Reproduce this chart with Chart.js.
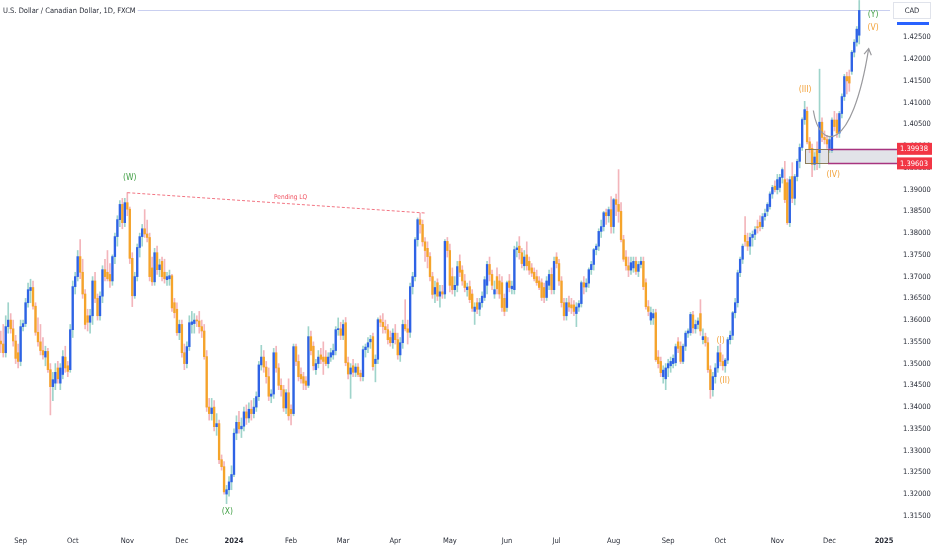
<!DOCTYPE html>
<html>
<head>
<meta charset="utf-8">
<script src="https://cdn.jsdelivr.net/npm/chart.js@4.4.1/dist/chart.umd.min.js"></script>
<style>
  html, body { margin: 0; padding: 0; background: #fff; }
</style>
</head>
<body>
<canvas id="chart" width="932" height="550"></canvas>
<script>
// USDCAD daily candles, [open, high, low, close], one array per month
const aug23 = [
  [1.3540,1.3565,1.3520,1.3552],[1.3552,1.3575,1.3525,1.3545],[1.3545,1.3590,1.3515,1.3525],
  [1.3525,1.3610,1.3515,1.3585],[1.3585,1.3640,1.3570,1.3600],[1.3600,1.3615,1.3570,1.3580],
  [1.3580,1.3600,1.3540,1.3552],[1.3552,1.3565,1.3500,1.3512],[1.3525,1.3545,1.3490,1.3505]
];
const sep23 = [
  [1.3505,1.3600,1.3495,1.3585],[1.3585,1.3600,1.3575,1.3592],[1.3592,1.3650,1.3585,1.3640],
  [1.3640,1.3685,1.3630,1.3670],[1.3668,1.3694,1.3640,1.3675],[1.3675,1.3690,1.3625,1.3632],
  [1.3632,1.3640,1.3565,1.3572],[1.3572,1.3605,1.3540,1.3550],[1.3550,1.3590,1.3520,1.3530],
  [1.3530,1.3560,1.3510,1.3520],[1.3515,1.3540,1.3495,1.3528],[1.3528,1.3535,1.3480,1.3486],
  [1.3486,1.3500,1.3382,1.3447],[1.3447,1.3480,1.3415,1.3463],[1.3455,1.3500,1.3440,1.3480],
  [1.3490,1.3505,1.3455,1.3465],[1.3455,1.3500,1.3440,1.3490],[1.3475,1.3530,1.3465,1.3516],
  [1.3515,1.3540,1.3480,1.3490],[1.3495,1.3505,1.3470,1.3482],[1.3486,1.3590,1.3480,1.3578]
];
const oct23 = [
  [1.3578,1.3690,1.3560,1.3677],[1.3677,1.3710,1.3660,1.3700],[1.3700,1.3760,1.3690,1.3746],
  [1.3746,1.3785,1.3695,1.3710],[1.3710,1.3740,1.3650,1.3660],[1.3660,1.3670,1.3580,1.3590],
  [1.3610,1.3625,1.3575,1.3595],[1.3595,1.3625,1.3570,1.3610],[1.3610,1.3700,1.3590,1.3690],
  [1.3690,1.3710,1.3640,1.3650],[1.3650,1.3660,1.3600,1.3610],[1.3610,1.3665,1.3600,1.3655],
  [1.3655,1.3725,1.3640,1.3716],[1.3716,1.3740,1.3690,1.3700],[1.3710,1.3760,1.3690,1.3695],
  [1.3705,1.3730,1.3675,1.3690],[1.3690,1.3750,1.3680,1.3746],[1.3746,1.3800,1.3730,1.3792],
  [1.3792,1.3840,1.3770,1.3831],[1.3831,1.3875,1.3815,1.3866],[1.3866,1.3880,1.3810,1.3824],
  [1.3824,1.3880,1.3815,1.3870]
];
const nov23 = [
  [1.3870,1.3893,1.3840,1.3855],[1.3855,1.3860,1.3730,1.3742],[1.3742,1.3755,1.3631,1.3656],
  [1.3656,1.3710,1.3650,1.3700],[1.3700,1.3775,1.3690,1.3767],[1.3767,1.3800,1.3745,1.3792],
  [1.3792,1.3820,1.3770,1.3810],[1.3810,1.3854,1.3790,1.3798],[1.3798,1.3830,1.3780,1.3790],
  [1.3790,1.3800,1.3690,1.3700],[1.3720,1.3745,1.3680,1.3688],[1.3688,1.3765,1.3680,1.3755],
  [1.3755,1.3770,1.3705,1.3716],[1.3716,1.3740,1.3700,1.3727],[1.3735,1.3745,1.3690,1.3700],
  [1.3710,1.3740,1.3685,1.3695],[1.3693,1.3710,1.3680,1.3700],[1.3695,1.3715,1.3680,1.3702],
  [1.3702,1.3705,1.3620,1.3628],[1.3640,1.3650,1.3605,1.3617],[1.3625,1.3640,1.3565,1.3571],
  [1.3571,1.3600,1.3555,1.3590]
];
const dec23 = [
  [1.3590,1.3600,1.3515,1.3525],[1.3525,1.3545,1.3486,1.3500],[1.3500,1.3550,1.3490,1.3539],
  [1.3539,1.3610,1.3530,1.3594],[1.3590,1.3620,1.3570,1.3596],[1.3592,1.3615,1.3570,1.3600],
  [1.3600,1.3610,1.3585,1.3598],[1.3598,1.3620,1.3570,1.3585],[1.3585,1.3600,1.3560,1.3575],
  [1.3575,1.3590,1.3510,1.3516],[1.3516,1.3530,1.3390,1.3400],[1.3400,1.3420,1.3370,1.3385],
  [1.3385,1.3420,1.3370,1.3398],[1.3400,1.3415,1.3345,1.3355],[1.3355,1.3385,1.3335,1.3362],
  [1.3362,1.3370,1.3270,1.3279],[1.3279,1.3290,1.3255,1.3263],[1.3263,1.3275,1.3200,1.3205],
  [1.3200,1.3220,1.3178,1.3210],[1.3210,1.3240,1.3195,1.3228],[1.3228,1.3265,1.3210,1.3245]
];
const jan24 = [
  [1.3245,1.3350,1.3240,1.3340],[1.3340,1.3380,1.3325,1.3365],[1.3365,1.3390,1.3340,1.3350],
  [1.3350,1.3375,1.3330,1.3356],[1.3356,1.3400,1.3345,1.3389],[1.3389,1.3405,1.3360,1.3375],
  [1.3375,1.3410,1.3365,1.3395],[1.3395,1.3415,1.3370,1.3385],[1.3385,1.3420,1.3375,1.3400],
  [1.3400,1.3435,1.3390,1.3424],[1.3424,1.3505,1.3415,1.3497],[1.3497,1.3542,1.3485,1.3515],
  [1.3515,1.3530,1.3480,1.3492],[1.3492,1.3505,1.3455,1.3470],[1.3470,1.3490,1.3415,1.3425],
  [1.3425,1.3440,1.3410,1.3430],[1.3430,1.3535,1.3420,1.3525],[1.3525,1.3540,1.3480,1.3490],
  [1.3490,1.3500,1.3440,1.3450],[1.3450,1.3465,1.3425,1.3440],[1.3440,1.3450,1.3390,1.3398],
  [1.3398,1.3440,1.3385,1.3433],[1.3433,1.3465,1.3370,1.3380]
];
const feb24 = [
  [1.3395,1.3405,1.3359,1.3385],[1.3385,1.3545,1.3380,1.3539],[1.3539,1.3545,1.3495,1.3505],
  [1.3505,1.3520,1.3460,1.3470],[1.3475,1.3490,1.3455,1.3465],[1.3470,1.3480,1.3440,1.3455],
  [1.3460,1.3470,1.3440,1.3450],[1.3450,1.3585,1.3445,1.3562],[1.3562,1.3575,1.3520,1.3530],
  [1.3540,1.3550,1.3485,1.3495],[1.3486,1.3510,1.3475,1.3500],[1.3500,1.3530,1.3490,1.3515],
  [1.3520,1.3535,1.3500,1.3510],[1.3515,1.3550,1.3475,1.3505],[1.3515,1.3530,1.3495,1.3500],
  [1.3500,1.3525,1.3490,1.3515],[1.3515,1.3535,1.3505,1.3525],[1.3520,1.3545,1.3510,1.3530],
  [1.3530,1.3585,1.3520,1.3578],[1.3578,1.3605,1.3565,1.3580],[1.3580,1.3595,1.3555,1.3565]
];
const mar24 = [
  [1.3565,1.3600,1.3555,1.3590],[1.3594,1.3606,1.3495,1.3502],[1.3502,1.3515,1.3465,1.3476],
  [1.3476,1.3500,1.3420,1.3490],[1.3495,1.3510,1.3470,1.3480],[1.3480,1.3500,1.3470,1.3492],
  [1.3492,1.3500,1.3470,1.3475],[1.3478,1.3485,1.3460,1.3470],[1.3470,1.3540,1.3460,1.3532],
  [1.3532,1.3545,1.3515,1.3538],[1.3538,1.3560,1.3525,1.3548],[1.3550,1.3565,1.3535,1.3556],
  [1.3562,1.3570,1.3485,1.3493],[1.3500,1.3520,1.3458,1.3510],[1.3510,1.3605,1.3500,1.3601],
  [1.3601,1.3610,1.3585,1.3595],[1.3595,1.3615,1.3570,1.3585],[1.3585,1.3600,1.3570,1.3578],
  [1.3578,1.3590,1.3545,1.3555],[1.3560,1.3575,1.3540,1.3548],[1.3548,1.3580,1.3535,1.3570]
];
const apr24 = [
  [1.3570,1.3590,1.3545,1.3555],[1.3555,1.3570,1.3510,1.3520],[1.3520,1.3560,1.3505,1.3548],
  [1.3548,1.3600,1.3535,1.3590],[1.3590,1.3647,1.3575,1.3580],[1.3580,1.3600,1.3545,1.3572],
  [1.3572,1.3685,1.3560,1.3677],[1.3677,1.3710,1.3660,1.3700],[1.3700,1.3790,1.3690,1.3785],
  [1.3785,1.3835,1.3770,1.3831],[1.3831,1.3846,1.3800,1.3820],[1.3820,1.3830,1.3770,1.3780],
  [1.3780,1.3790,1.3735,1.3760],[1.3765,1.3780,1.3720,1.3746],[1.3746,1.3755,1.3690,1.3700],
  [1.3700,1.3710,1.3650,1.3659],[1.3660,1.3690,1.3640,1.3675],[1.3686,1.3695,1.3645,1.3655],
  [1.3655,1.3680,1.3630,1.3665],[1.3665,1.3680,1.3650,1.3660],[1.3660,1.3785,1.3650,1.3781],
  [1.3781,1.3790,1.3745,1.3760]
];
const may24 = [
  [1.3760,1.3775,1.3665,1.3680],[1.3700,1.3720,1.3660,1.3670],[1.3670,1.3700,1.3655,1.3680],
  [1.3680,1.3735,1.3665,1.3723],[1.3735,1.3750,1.3700,1.3710],[1.3715,1.3725,1.3680,1.3690],
  [1.3690,1.3705,1.3665,1.3675],[1.3670,1.3685,1.3655,1.3676],[1.3677,1.3690,1.3640,1.3647],
  [1.3660,1.3670,1.3620,1.3627],[1.3620,1.3640,1.3590,1.3630],[1.3640,1.3650,1.3615,1.3625],
  [1.3625,1.3650,1.3610,1.3640],[1.3640,1.3665,1.3630,1.3655],[1.3652,1.3700,1.3645,1.3693],
  [1.3680,1.3735,1.3660,1.3728],[1.3728,1.3745,1.3690,1.3705],[1.3705,1.3715,1.3670,1.3680],
  [1.3660,1.3690,1.3650,1.3670],[1.3700,1.3720,1.3660,1.3672],[1.3690,1.3705,1.3650,1.3660],
  [1.3686,1.3700,1.3620,1.3629],[1.3650,1.3660,1.3610,1.3620]
];
const jun24 = [
  [1.3629,1.3690,1.3620,1.3686],[1.3690,1.3705,1.3665,1.3675],[1.3672,1.3690,1.3660,1.3678],
  [1.3670,1.3770,1.3660,1.3762],[1.3762,1.3780,1.3745,1.3766],[1.3770,1.3792,1.3740,1.3755],
  [1.3755,1.3765,1.3720,1.3730],[1.3725,1.3760,1.3715,1.3745],[1.3750,1.3780,1.3715,1.3725],
  [1.3735,1.3745,1.3705,1.3715],[1.3720,1.3730,1.3700,1.3708],[1.3710,1.3720,1.3690,1.3695],
  [1.3700,1.3715,1.3680,1.3686],[1.3690,1.3700,1.3670,1.3675],[1.3686,1.3695,1.3645,1.3652],
  [1.3675,1.3685,1.3640,1.3652],[1.3652,1.3700,1.3645,1.3690],[1.3680,1.3715,1.3670,1.3705],
  [1.3705,1.3720,1.3660,1.3670],[1.3670,1.3745,1.3660,1.3735]
];
const jul24 = [
  [1.3745,1.3755,1.3720,1.3730],[1.3730,1.3740,1.3680,1.3690],[1.3690,1.3700,1.3630,1.3640],
  [1.3640,1.3650,1.3600,1.3610],[1.3610,1.3650,1.3600,1.3640],[1.3640,1.3655,1.3620,1.3630],
  [1.3635,1.3650,1.3615,1.3628],[1.3635,1.3645,1.3610,1.3620],[1.3615,1.3640,1.3585,1.3630],
  [1.3630,1.3645,1.3620,1.3638],[1.3638,1.3690,1.3630,1.3686],[1.3686,1.3700,1.3660,1.3676],
  [1.3676,1.3695,1.3665,1.3685],[1.3685,1.3720,1.3675,1.3716],[1.3716,1.3735,1.3705,1.3728],
  [1.3728,1.3765,1.3715,1.3762],[1.3762,1.3775,1.3750,1.3770],[1.3770,1.3810,1.3760,1.3804],
  [1.3804,1.3830,1.3790,1.3815],[1.3815,1.3850,1.3805,1.3847],[1.3847,1.3855,1.3820,1.3840],
  [1.3840,1.3860,1.3825,1.3854],[1.3854,1.3884,1.3800,1.3815]
];
const aug24 = [
  [1.3815,1.3880,1.3800,1.3877],[1.3877,1.3890,1.3840,1.3866],[1.3866,1.3946,1.3825,1.3850],
  [1.3850,1.3870,1.3780,1.3785],[1.3785,1.3795,1.3735,1.3740],[1.3745,1.3760,1.3715,1.3725],
  [1.3725,1.3745,1.3700,1.3715],[1.3715,1.3745,1.3705,1.3732],[1.3720,1.3745,1.3710,1.3735],
  [1.3735,1.3745,1.3705,1.3712],[1.3712,1.3735,1.3700,1.3728],[1.3728,1.3745,1.3720,1.3735],
  [1.3735,1.3745,1.3670,1.3677],[1.3686,1.3695,1.3625,1.3631],[1.3631,1.3645,1.3610,1.3620],
  [1.3600,1.3630,1.3590,1.3617],[1.3605,1.3625,1.3590,1.3615],[1.3617,1.3625,1.3505,1.3509],
  [1.3515,1.3530,1.3490,1.3500],[1.3505,1.3515,1.3470,1.3479],[1.3470,1.3495,1.3455,1.3485],
  [1.3465,1.3500,1.3440,1.3490]
];
const sep24 = [
  [1.3490,1.3510,1.3470,1.3500],[1.3495,1.3515,1.3480,1.3505],[1.3500,1.3520,1.3490,1.3512],
  [1.3502,1.3545,1.3495,1.3539],[1.3550,1.3560,1.3525,1.3535],[1.3540,1.3550,1.3500,1.3505],
  [1.3505,1.3545,1.3500,1.3540],[1.3540,1.3575,1.3530,1.3570],[1.3570,1.3580,1.3560,1.3575],
  [1.3571,1.3618,1.3565,1.3613],[1.3612,1.3620,1.3570,1.3582],[1.3580,1.3600,1.3570,1.3590],
  [1.3590,1.3605,1.3580,1.3598],[1.3615,1.3647,1.3565,1.3575],[1.3555,1.3580,1.3545,1.3562],
  [1.3562,1.3570,1.3540,1.3548],[1.3548,1.3560,1.3480,1.3486],[1.3486,1.3495,1.3420,1.3440],
  [1.3440,1.3480,1.3425,1.3470],[1.3470,1.3500,1.3455,1.3490],[1.3490,1.3540,1.3480,1.3525]
];
const oct24 = [
  [1.3525,1.3545,1.3495,1.3505],[1.3505,1.3520,1.3485,1.3495],[1.3495,1.3512,1.3480,1.3508],
  [1.3508,1.3560,1.3500,1.3555],[1.3555,1.3575,1.3545,1.3565],[1.3565,1.3620,1.3555,1.3617],
  [1.3617,1.3650,1.3605,1.3640],[1.3640,1.3715,1.3630,1.3709],[1.3709,1.3745,1.3700,1.3740],
  [1.3740,1.3775,1.3730,1.3770],[1.3795,1.3838,1.3770,1.3781],[1.3781,1.3800,1.3760,1.3770],
  [1.3770,1.3800,1.3751,1.3790],[1.3790,1.3805,1.3770,1.3797],[1.3797,1.3815,1.3785,1.3808],
  [1.3815,1.3830,1.3800,1.3812],[1.3825,1.3840,1.3805,1.3815],[1.3815,1.3845,1.3810,1.3838],
  [1.3838,1.3855,1.3830,1.3845],[1.3850,1.3870,1.3840,1.3866],[1.3861,1.3895,1.3855,1.3890],
  [1.3890,1.3910,1.3880,1.3905],[1.3908,1.3920,1.3895,1.3900]
];
const nov24 = [
  [1.3900,1.3935,1.3890,1.3923],[1.3905,1.3935,1.3895,1.3928],[1.3928,1.3950,1.3915,1.3946],
  [1.3923,1.3965,1.3870,1.3877],[1.3916,1.3925,1.3820,1.3824],[1.3824,1.3930,1.3815,1.3923],
  [1.3930,1.3962,1.3870,1.3880],[1.3880,1.3935,1.3865,1.3930],[1.3930,1.3970,1.3920,1.3965],
  [1.3965,1.4005,1.3950,1.3997],[1.3997,1.4065,1.3990,1.4061],[1.4061,1.4103,1.4050,1.4084],
  [1.4080,1.4090,1.4005,1.4010],[1.4010,1.4020,1.3985,1.3992],[1.3995,1.4005,1.3930,1.3958],
  [1.3958,1.3985,1.3945,1.3975],[1.3990,1.4010,1.3946,1.3960],[1.3985,1.4177,1.3950,1.4055],
  [1.4055,1.4065,1.4010,1.4020],[1.4020,1.4035,1.4005,1.4015],[1.4015,1.4025,1.3995,1.4005]
];
const dec24 = [
  [1.3995,1.4020,1.3985,1.4015],[1.3990,1.4065,1.3985,1.4060],[1.4060,1.4080,1.4035,1.4045],
  [1.4060,1.4075,1.4020,1.4030],[1.4030,1.4080,1.4020,1.4075],[1.4075,1.4120,1.4065,1.4114],
  [1.4114,1.4165,1.4105,1.4160],[1.4160,1.4170,1.4120,1.4150],[1.4160,1.4175,1.4126,1.4145],
  [1.4172,1.4220,1.4165,1.4216],[1.4216,1.4245,1.4205,1.4239],[1.4239,1.4275,1.4230,1.4269],
  [1.4255,1.4335,1.4235,1.4312]
];

// axis ticks (candle index of the first trading day of each month)
const monthIdx = [9, 30, 52, 74, 95, 118, 139, 160, 182, 205, 225, 248, 270, 291, 314, 335, 357];
const monthLabels = ['Sep', 'Oct', 'Nov', 'Dec', '2024', 'Feb', 'Mar', 'Apr', 'May', 'Jun', 'Jul', 'Aug', 'Sep', 'Oct', 'Nov', 'Dec', '2025'];
const yTicks = [1.315, 1.32, 1.325, 1.33, 1.335, 1.34, 1.345, 1.35, 1.355, 1.36, 1.365, 1.37,
  1.375, 1.38, 1.385, 1.39, 1.395, 1.40, 1.405, 1.41, 1.415, 1.42, 1.425];

// drawings, in [candle index, price]
const greenWaves = [['(W)', 53, 1.3928], ['(X)', 92.3, 1.3160], ['(Y)', 352.6, 1.4303]];
const orangeWaves = [['(V)', 352.6, 1.4271], ['(III)', 325.2, 1.4130], ['(IV)', 336.5, 1.3933],
  ['(I)', 291.1, 1.3553], ['(II)', 292.8, 1.3461]];
const lqLine = [[52, 1.3893], [172.5, 1.3846]];
const lqLabel = ['Pending LQ', 117.8, 1.3882];
const zone = { top: 1.39938, bottom: 1.39603, start: 325.1, split: 334.4 };
const arrowPath = [[328.5, 1.4082], [331, 1.3990], [344, 1.3980], [350.8, 1.4224]];

const candles = [].concat(aug23, sep23, oct23, nov23, dec23, jan24, feb24, mar24, apr24,
  may24, jun24, jul24, aug24, sep24, oct24, nov24, dec24);

const FONT = "'Liberation Sans Narrow', 'DejaVu Sans Condensed', 'Roboto', sans-serif";
const UP = '#2e62e6', DOWN = '#f5a42a';
const UP_WICK = '#9fd4cb', DOWN_WICK = '#f3b5bb';

const isUp = candles.map(c => c[3] >= c[0]);
const lastClose = candles[candles.length - 1][3];

const overlay = {
  id: 'overlay',
  beforeDatasetsDraw(chart) {
    const { ctx, chartArea, scales: { x, y } } = chart;
    ctx.save();
    // supply zone fill
    const zl = x.getPixelForValue(zone.start);
    const zt = y.getPixelForValue(zone.top), zb = y.getPixelForValue(zone.bottom);
    ctx.fillStyle = 'rgba(190,194,204,0.45)';
    ctx.fillRect(zl, zt, chartArea.right + 8 - zl, zb - zt);
    // last price line
    const ly = Math.round(y.getPixelForValue(lastClose)) + 0.5;
    ctx.strokeStyle = '#c9cff0';
    ctx.lineWidth = 1;
    ctx.beginPath(); ctx.moveTo(0, ly); ctx.lineTo(chartArea.right, ly); ctx.stroke();
    ctx.restore();
  },
  afterDatasetsDraw(chart) {
    const { ctx, chartArea, scales: { x, y } } = chart;
    const px = p => [x.getPixelForValue(p[0]), y.getPixelForValue(p[1])];
    ctx.save();

    // zone borders
    const zl = x.getPixelForValue(zone.start), zs = x.getPixelForValue(zone.split);
    const zt = Math.round(y.getPixelForValue(zone.top)) + 0.5;
    const zb = Math.round(y.getPixelForValue(zone.bottom)) + 0.5;
    ctx.lineWidth = 1;
    ctx.strokeStyle = '#8c7d5c';
    ctx.strokeRect(Math.round(zl) + 0.5, zt, zs - zl, zb - zt);
    ctx.strokeStyle = '#a8347f';
    ctx.lineWidth = 1.3;
    ctx.beginPath();
    ctx.moveTo(zs, zt); ctx.lineTo(chartArea.right + 8, zt);
    ctx.moveTo(zs, zb); ctx.lineTo(chartArea.right + 8, zb);
    ctx.stroke();

    // pending liquidity dashed line
    const a = px(lqLine[0]), b = px(lqLine[1]);
    ctx.strokeStyle = '#f27583';
    ctx.lineWidth = 1;
    ctx.setLineDash([3, 2]);
    ctx.beginPath(); ctx.moveTo(a[0], a[1]); ctx.lineTo(b[0], b[1]); ctx.stroke();
    ctx.setLineDash([]);
    const lp = px([lqLabel[1], lqLabel[2]]);
    ctx.font = '6.5px ' + FONT;
    ctx.fillStyle = '#f0505f';
    ctx.textAlign = 'center';
    ctx.textBaseline = 'middle';
    ctx.fillText(lqLabel[0], lp[0], lp[1]);

    // curved arrow
    const p0 = px(arrowPath[0]), c1 = px(arrowPath[1]), c2 = px(arrowPath[2]), p1 = px(arrowPath[3]);
    ctx.strokeStyle = '#9a9a9e';
    ctx.lineWidth = 1.2;
    ctx.beginPath();
    ctx.moveTo(p0[0], p0[1]);
    ctx.bezierCurveTo(c1[0], c1[1], c2[0], c2[1], p1[0], p1[1]);
    ctx.stroke();
    const ang = Math.atan2(p1[1] - c2[1], p1[0] - c2[0]);
    ctx.beginPath();
    ctx.moveTo(p1[0] - 7 * Math.cos(ang - 0.55), p1[1] - 7 * Math.sin(ang - 0.55));
    ctx.lineTo(p1[0], p1[1]);
    ctx.lineTo(p1[0] - 7 * Math.cos(ang + 0.55), p1[1] - 7 * Math.sin(ang + 0.55));
    ctx.stroke();

    // wave labels
    ctx.font = '8.5px ' + FONT;
    ctx.fillStyle = '#43a047';
    greenWaves.forEach(w => { const q = px([w[1], w[2]]); ctx.fillText(w[0], q[0], q[1]); });
    ctx.fillStyle = '#f2a23a';
    orangeWaves.forEach(w => { const q = px([w[1], w[2]]); ctx.fillText(w[0], q[0], q[1]); });
    ctx.restore();
  },
  afterDraw(chart) {
    const { ctx, scales: { y } } = chart;
    ctx.save();
    // title
    ctx.font = '7.5px ' + FONT;
    const title = 'U.S. Dollar / Canadian Dollar, 1D, FXCM';
    const tw = ctx.measureText(title).width;
    ctx.fillStyle = '#fff';
    ctx.fillRect(0, 4, tw + 5, 14);
    ctx.fillStyle = '#2a2e39';
    ctx.textBaseline = 'middle';
    ctx.fillText(title, 3, 11);

    // currency box and last price marker
    ctx.fillStyle = '#fff';
    ctx.fillRect(893, 2, 38, 17);
    ctx.strokeStyle = '#e0e3eb';
    ctx.strokeRect(893.5, 2.5, 37, 16);
    ctx.fillStyle = '#2a2e39';
    ctx.textAlign = 'center';
    ctx.fillText('CAD', 912, 11);
    ctx.fillStyle = '#2962ff';
    ctx.fillRect(897, 22, 32, 3);

    // zone price labels
    [zone.top, zone.bottom].forEach(v => {
      const yy = y.getPixelForValue(v);
      ctx.fillStyle = '#f23645';
      ctx.fillRect(897, yy - 6, 35, 12);
      ctx.fillStyle = '#fff';
      ctx.fillText(v.toFixed(5), 914, yy + 0.5);
    });
    ctx.restore();
  }
};

new Chart(document.getElementById('chart'), {
  type: 'bar',
  data: {
    datasets: [
      {
        data: candles.map((c, i) => ({ x: i, y: [c[2], c[1]] })),
        backgroundColor: isUp.map(u => u ? UP_WICK : DOWN_WICK),
        barThickness: 1,
        grouped: false,
        order: 2
      },
      {
        data: candles.map((c, i) => ({ x: i, y: [c[0], c[3]] })),
        backgroundColor: isUp.map(u => u ? UP : DOWN),
        barThickness: 1.7,
        minBarLength: 1,
        grouped: false,
        order: 1
      }
    ]
  },
  options: {
    responsive: false,
    animation: false,
    layout: { padding: 0 },
    plugins: { legend: { display: false }, tooltip: { enabled: false } },
    scales: {
      x: {
        type: 'linear',
        min: 0.69,
        max: 359.4,
        offset: false,
        grid: { display: false, drawTicks: false },
        border: { display: false },
        afterBuildTicks: s => { s.ticks = monthIdx.map(v => ({ value: v })); },
        afterFit: s => { s.height = 22; s.paddingLeft = 0; s.paddingRight = 0; },
        ticks: {
          autoSkip: false,
          maxRotation: 0,
          padding: 9,
          color: '#2a2e39',
          font: c => ({ family: FONT, size: 7.5, weight: (c.tick && (c.tick.value === 95 || c.tick.value === 357)) ? 'bold' : 'normal' }),
          callback: v => monthLabels[monthIdx.indexOf(v)]
        }
      },
      y: {
        type: 'linear',
        position: 'right',
        min: 1.3122,
        max: 1.4336,
        grid: { display: false, drawTicks: false },
        border: { display: false },
        afterBuildTicks: s => { s.ticks = yTicks.map(v => ({ value: v })); },
        afterFit: s => { s.width = 42; s.paddingTop = 0; s.paddingBottom = 0; },
        ticks: {
          padding: 13,
          color: '#2a2e39',
          font: { family: FONT, size: 7.5 },
          callback: v => v.toFixed(5)
        }
      }
    }
  },
  plugins: [overlay]
});
</script>
</body>
</html>
